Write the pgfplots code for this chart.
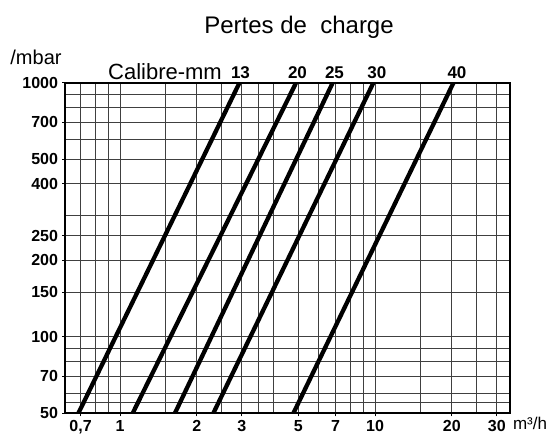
\documentclass[border=0pt]{standalone}
\usepackage{fontspec}
\setmainfont{Liberation Sans}
\usepackage{pgfplots}
\pgfplotsset{compat=1.18}
\begin{document}
\begin{tikzpicture}[x=1pt,y=1pt]
\useasboundingbox (-65,-24.7) rectangle (485,413.3);
\begin{axis}[
  at={(0,0)}, anchor=south west,
  scale only axis, width=445pt, height=330.6pt,
  xmode=log, ymode=log,
  xmin=0.608, xmax=33.8, ymin=50, ymax=1000,
  xtick={0.7,1,2,3,5,7,10,20,30},
  xticklabels={{0,7},1,2,3,5,7,10,20,30},
  minor xtick={0.8,0.9,1.5,2.5,3.5,4,6,8,9,15,25},
  ytick={50,70,100,150,200,250,400,500,700,1000},
  yticklabels={50,70,100,150,200,250,400,500,700,1000},
  minor ytick={55,60,80,90,300,600,800,900},
  grid=both,
  major grid style={black!75, line width=0.8pt},
  minor grid style={black!75, line width=0.8pt},
  tick align=outside, tick pos=left,
  major tick length=3pt, minor tick length=0pt,
  axis line style={line width=1.8pt},
  tick style={black, line width=0.8pt},
  ticklabel style={font=\bfseries\fontsize{16}{16}\selectfont},
  xticklabel style={yshift=-0.5pt},
  yticklabel style={xshift=-0.5pt},
]
\addplot[line width=4.3pt] coordinates {(0.686,50) (2.94,1000)};
\addplot[line width=4.3pt] coordinates {(1.12,50) (4.90,1000)};
\addplot[line width=4.3pt] coordinates {(1.64,50) (6.82,1000)};
\addplot[line width=4.3pt] coordinates {(2.32,50) (9.85,1000)};
\addplot[line width=4.3pt] coordinates {(4.78,50) (20.3,1000)};
\end{axis}
\node[anchor=base, font=\fontsize{24}{24}\selectfont] at (234,379.8) {Pertes de~ charge};
\node[anchor=base, font=\fontsize{20}{20}\selectfont] at (-29,348.3) {/mbar};
\node[anchor=base, font=\fontsize{22}{22}\selectfont] at (100,334.1) {Calibre-mm};
\begin{scope}[every node/.style={anchor=base, font=\bfseries\fontsize{17}{17}\selectfont}]
\node at (175.5,334.3) {13};
\node at (232.5,334.3) {20};
\node at (269.5,334.3) {25};
\node at (311.8,334.3) {30};
\node at (392,334.3) {40};
\end{scope}
\node[anchor=base, font=\fontsize{17}{17}\selectfont] at (465,-16.7) {m³/h};
\end{tikzpicture}
\end{document}
